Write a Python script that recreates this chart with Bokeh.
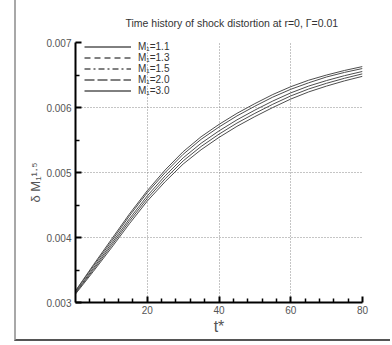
from bokeh.plotting import figure
from bokeh.models import (FixedTicker, Legend, LegendItem, ColumnDataSource,
                          Range1d, PrintfTickFormatter, Title)
from bokeh.embed import file_html
from bokeh.resources import INLINE

# ---- data ----
t = [0, 2, 5, 10, 15, 20, 25, 30, 35, 40, 45, 50, 55, 60, 65, 70, 75, 80]
m_1_1 = [0.00318, 0.00334, 0.00358, 0.00397, 0.00436, 0.00472, 0.00504, 0.00532, 0.00555,
         0.00574, 0.00591, 0.00606, 0.00620, 0.00632, 0.00642, 0.00650, 0.00657, 0.00663]
m_1_3 = [0.00317, 0.00333, 0.00356, 0.00394, 0.00433, 0.00469, 0.00500, 0.00528, 0.00551,
         0.00570, 0.00587, 0.00602, 0.00616, 0.00628, 0.00638, 0.00647, 0.00654, 0.00660]
m_1_5 = [0.003155, 0.003305, 0.00353, 0.003905, 0.004285, 0.00464, 0.00495, 0.005225, 0.00545,
         0.00564, 0.00581, 0.00596, 0.00610, 0.006225, 0.00633, 0.006415, 0.00649, 0.006555]
m_2_0 = [0.003143, 0.003288, 0.003505, 0.003873, 0.004248, 0.00460, 0.004905, 0.005178, 0.00540,
         0.00559, 0.00576, 0.00591, 0.00605, 0.006178, 0.006285, 0.006373, 0.00645, 0.006518]
m_3_0 = [0.00313, 0.00327, 0.00348, 0.00384, 0.00421, 0.00456, 0.00486, 0.00513, 0.00535,
         0.00554, 0.00571, 0.00586, 0.00600, 0.00613, 0.00624, 0.00633, 0.00641, 0.00648]
series_labels = ["M\u2081=1.1", "M\u2081=1.3", "M\u2081=1.5", "M\u2081=2.0", "M\u2081=3.0"]
series_dash = ["solid", "6 4", "6 3 2 3", "10 3", "solid"]
x_ticks = [20, 40, 60, 80]
x_minor = [4, 8, 12, 16, 24, 28, 32, 36, 44, 48, 52, 56, 64, 68, 72, 76]
y_ticks = [0.003, 0.004, 0.005, 0.006, 0.007]
y_minor = [0.0035, 0.0045, 0.0055, 0.0065]
title_text = "Time history of shock distortion at r=0, \u0393=0.01"
x_label = "t*"
y_label = "\u03b4 M\u2081\u00b9\u00b7\u2075"

FONT = "Liberation Sans"

p = figure(width=376, height=341, x_range=Range1d(0, 80), y_range=Range1d(0.003, 0.007),
           output_backend="svg", toolbar_location=None,
           min_border_left=59, min_border_right=30, min_border_top=40, min_border_bottom=39)
p.styles = {"margin-left": "14px", "border-left": "2px solid #a8a8a8",
            "border-bottom": "2px solid #555555"}
p.outline_line_color = None
p.background_fill_color = "white"
p.border_fill_color = "white"

p.title.text = title_text
p.title.align = "left"
p.title.offset = 50
p.title.standoff = 28
p.title.text_font = FONT
p.title.text_font_size = "10.5px"
p.title.text_font_style = "normal"
p.title.text_color = "#333333"

xt = FixedTicker(ticks=x_ticks, minor_ticks=x_minor)
yt = FixedTicker(ticks=y_ticks, minor_ticks=y_minor)
for ax, tk in ((p.xaxis[0], xt), (p.yaxis[0], yt)):
    ax.ticker = tk
    ax.axis_line_width = 2
    ax.axis_line_color = "black"
    ax.major_tick_in = 6
    ax.major_tick_out = 0
    ax.minor_tick_in = 4
    ax.minor_tick_out = 0
    ax.major_tick_line_width = 2
    ax.minor_tick_line_width = 1.5
    ax.major_tick_line_color = "black"
    ax.minor_tick_line_color = "black"
    ax.major_label_text_font = FONT
    ax.major_label_text_font_size = "10px"
    ax.major_label_text_color = "#555555"
    ax.axis_label_text_font = FONT
    ax.axis_label_text_font_style = "normal"
    ax.axis_label_text_color = "#555555"
p.yaxis[0].formatter = PrintfTickFormatter(format="%.3f")
p.yaxis[0].major_label_standoff = 4
p.xaxis[0].major_label_standoff = 3
p.xaxis[0].axis_label = x_label
p.xaxis[0].axis_label_text_font_size = "16px"
p.xaxis[0].axis_label_standoff = 1

# y-axis label as a side title (allows shifting it along the axis)
ytitle = Title(text=y_label, align="left", offset=100, standoff=2, text_font=FONT,
               text_font_size="13px", text_font_style="normal", text_color="#555555")
p.add_layout(ytitle, "left")

p.xgrid.ticker = xt
p.ygrid.ticker = yt
for g in (p.xgrid[0], p.ygrid[0]):
    g.grid_line_color = "#8a8a8a"
    g.grid_line_dash = "1 2"
    g.grid_line_width = 1

all_series = [m_1_1, m_1_3, m_1_5, m_2_0, m_3_0]
items = []
for ys, lab, dash in zip(all_series, series_labels, series_dash):
    src = ColumnDataSource(dict(t=t, y=ys))
    p.line("t", "y", source=src, line_color="#4d4d4d", line_width=1)
    key = p.line("t", "y", source=src, line_color="black", line_width=1, line_dash=dash,
                 visible=False)
    items.append(LegendItem(label=lab, renderers=[key]))

legend = Legend(items=items, location=(9, 206), border_line_color=None,
                background_fill_alpha=0, label_text_font=FONT, label_text_font_size="10px",
                label_text_color="#333333", glyph_width=47, glyph_height=9, label_height=9,
                spacing=0, padding=4, margin=0, label_standoff=7)
p.add_layout(legend, "center")

open("out.html", "w").write(file_html(p, INLINE))
